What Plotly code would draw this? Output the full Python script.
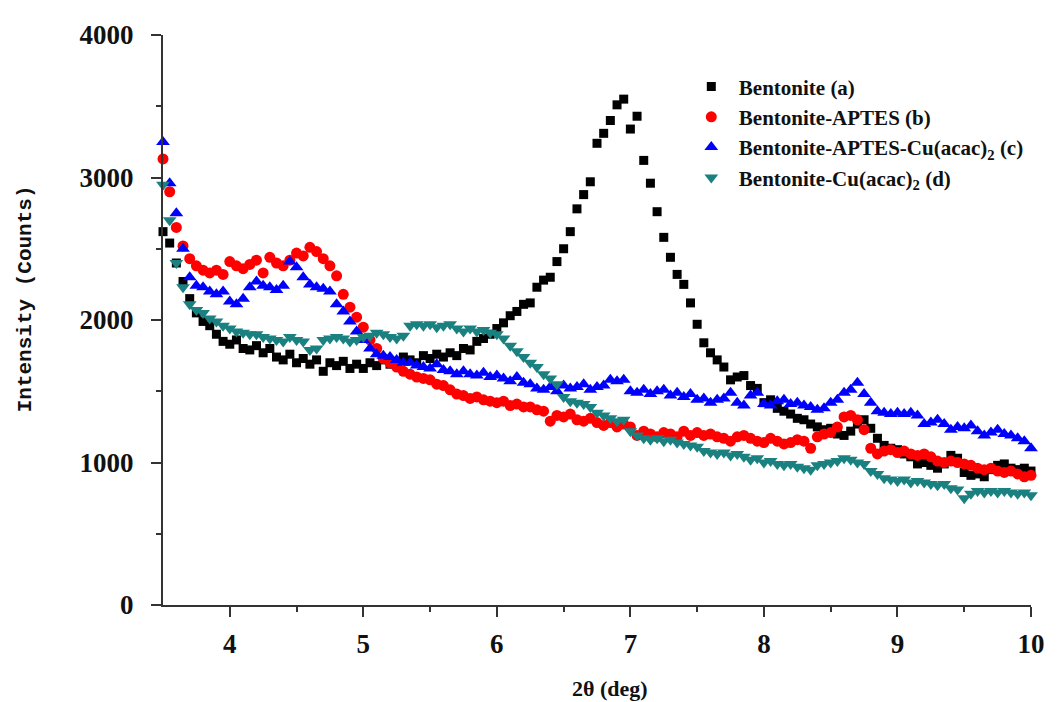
import plotly.graph_objects as go

# 2-theta scan positions (deg)
two_theta = [
    3.50, 3.55, 3.60, 3.65, 3.70, 3.75, 3.80, 3.85, 3.90, 3.95,
    4.00, 4.05, 4.10, 4.15, 4.20, 4.25, 4.30, 4.35, 4.40, 4.45,
    4.50, 4.55, 4.60, 4.65, 4.70, 4.75, 4.80, 4.85, 4.90, 4.95,
    5.00, 5.05, 5.10, 5.15, 5.20, 5.25, 5.30, 5.35, 5.40, 5.45,
    5.50, 5.55, 5.60, 5.65, 5.70, 5.75, 5.80, 5.85, 5.90, 5.95,
    6.00, 6.05, 6.10, 6.15, 6.20, 6.25, 6.30, 6.35, 6.40, 6.45,
    6.50, 6.55, 6.60, 6.65, 6.70, 6.75, 6.80, 6.85, 6.90, 6.95,
    7.00, 7.05, 7.10, 7.15, 7.20, 7.25, 7.30, 7.35, 7.40, 7.45,
    7.50, 7.55, 7.60, 7.65, 7.70, 7.75, 7.80, 7.85, 7.90, 7.95,
    8.00, 8.05, 8.10, 8.15, 8.20, 8.25, 8.30, 8.35, 8.40, 8.45,
    8.50, 8.55, 8.60, 8.65, 8.70, 8.75, 8.80, 8.85, 8.90, 8.95,
    9.00, 9.05, 9.10, 9.15, 9.20, 9.25, 9.30, 9.35, 9.40, 9.45,
    9.50, 9.55, 9.60, 9.65, 9.70, 9.75, 9.80, 9.85, 9.90, 9.95,
    10.00,
]

bentonite_a = [
    2620, 2540, 2400, 2270, 2150, 2050, 1990, 1960, 1900, 1850,
    1830, 1860, 1800, 1790, 1820, 1770, 1800, 1740, 1720, 1760,
    1700, 1730, 1690, 1720, 1640, 1700, 1680, 1710, 1660, 1690,
    1660, 1700, 1680, 1720, 1690, 1710, 1740, 1720, 1700, 1750,
    1730, 1760, 1740, 1770, 1750, 1800, 1790, 1850, 1870, 1900,
    1940, 1980, 2030, 2060, 2110, 2120, 2230, 2280, 2300, 2410,
    2500, 2620, 2780, 2880, 2970, 3240, 3310, 3400, 3510, 3550,
    3340, 3430, 3120, 2960, 2760, 2580, 2440, 2320, 2250, 2120,
    1970, 1840, 1770, 1720, 1670, 1580, 1600, 1610, 1540, 1520,
    1420, 1440, 1380, 1360, 1340, 1310, 1300, 1270, 1250, 1230,
    1240, 1200, 1190, 1220, 1270, 1300, 1240, 1170, 1120, 1100,
    1090, 1060, 1040, 990, 1000, 980, 960, 990, 1050, 1030,
    930, 910, 920, 900, 950, 980, 990, 960, 950, 960,
    940,
]

bentonite_aptes_b = [
    3130, 2900, 2650, 2520, 2430, 2380, 2350, 2330, 2350, 2320,
    2410, 2380, 2360, 2390, 2420, 2330, 2440, 2400, 2380, 2420,
    2470, 2450, 2510, 2480, 2430, 2380, 2310, 2180, 2090, 2020,
    1950, 1860, 1800, 1730, 1700, 1670, 1640, 1620, 1600, 1590,
    1580, 1550, 1540, 1510, 1480, 1470, 1450, 1460, 1440, 1430,
    1420, 1430, 1400, 1410, 1390, 1390, 1370, 1360, 1290, 1330,
    1320, 1340, 1300, 1290, 1310, 1280, 1260, 1280, 1250, 1270,
    1250, 1190, 1220, 1200, 1180, 1210, 1200, 1180, 1220, 1190,
    1210, 1190, 1200, 1180, 1170, 1150, 1180, 1190, 1170, 1150,
    1140, 1170, 1150, 1130, 1140, 1160, 1150, 1100, 1180, 1200,
    1210, 1250, 1320, 1330, 1300, 1230, 1100, 1060, 1080, 1090,
    1070, 1080, 1060, 1050, 1060, 1040, 1010, 1000, 1010, 1000,
    990, 980, 960, 950, 960, 940, 930, 940, 920, 900,
    910,
]

bentonite_aptes_cu_c = [
    3250, 2960, 2750, 2500, 2300, 2240, 2230, 2200, 2180, 2200,
    2130, 2110, 2150, 2230, 2270, 2240, 2230, 2210, 2240, 2410,
    2370, 2300, 2250, 2230, 2220, 2200, 2110, 2060, 1990, 1920,
    1860, 1800, 1760, 1750, 1740, 1720, 1700, 1700, 1680, 1670,
    1660, 1690, 1650, 1640, 1620, 1640, 1620, 1610, 1630, 1600,
    1610, 1590, 1570, 1600, 1560, 1550, 1520, 1510, 1530, 1500,
    1540, 1520, 1530, 1550, 1510, 1530, 1540, 1580, 1570, 1580,
    1500, 1490, 1510, 1480, 1500, 1510, 1470, 1490, 1460, 1480,
    1440, 1450, 1420, 1440, 1450, 1490, 1420, 1400, 1470, 1490,
    1410, 1400, 1430, 1440, 1410, 1420, 1400, 1390, 1370, 1380,
    1420, 1440, 1490, 1510, 1560, 1480, 1420, 1360, 1350, 1340,
    1350, 1340, 1350, 1330, 1270, 1280, 1300, 1270, 1230, 1250,
    1240, 1260, 1220, 1190, 1210, 1230, 1200, 1190, 1170, 1150,
    1100,
]

bentonite_cu_d = [
    2950, 2700, 2400, 2230, 2110, 2070, 2050, 2010, 1990, 1960,
    1940, 1920, 1910, 1900, 1900, 1880, 1870, 1860, 1850, 1880,
    1860, 1850, 1790, 1800, 1860, 1870, 1880, 1870, 1850, 1860,
    1880, 1890, 1910, 1900, 1880, 1870, 1890, 1960, 1970, 1960,
    1970, 1950, 1960, 1970, 1940, 1920, 1940, 1920, 1930, 1910,
    1900, 1870, 1820, 1780, 1740, 1700, 1670, 1620, 1590, 1550,
    1460, 1430, 1420, 1410, 1390, 1350, 1330, 1310, 1290, 1300,
    1220, 1190, 1170, 1160, 1170, 1150, 1160, 1140, 1130, 1120,
    1110, 1080, 1070, 1060, 1070, 1050, 1060, 1040, 1020, 1030,
    1000, 1010, 990, 980, 990, 970, 960, 950, 980, 990,
    1000, 1010, 1030, 1020, 1000, 990, 940, 920, 890, 880,
    870, 880, 860, 870, 860, 850, 840, 850, 820, 810,
    750, 780, 800, 790, 800, 790, 800, 790, 780, 790,
    770,
]

series_names = [
    "Bentonite (a)",
    "Bentonite-APTES (b)",
    "Bentonite-APTES-Cu(acac)<sub>2</sub> (c)",
    "Bentonite-Cu(acac)<sub>2</sub> (d)",
]
series_values = [bentonite_a, bentonite_aptes_b, bentonite_aptes_cu_c, bentonite_cu_d]
series_colors = ["#000000", "#ff0000", "#0000ff", "#1a8080"]
series_symbols = ["square", "circle", "triangle-up", "triangle-down"]
series_sizes = [9, 11, 12, 12]

y_ticks = [0, 1000, 2000, 3000, 4000]
x_ticks = [4, 5, 6, 7, 8, 9, 10]

fig = go.Figure()
for name, vals, col, sym, sz in zip(series_names, series_values, series_colors,
                                    series_symbols, series_sizes):
    fig.add_trace(go.Scatter(
        x=two_theta, y=vals, mode="markers", name=name,
        marker=dict(symbol=sym, size=sz, color=col, line=dict(width=0)),
        cliponaxis=False,
    ))

axis_font = dict(family="Liberation Serif", size=27, color="#111111")
fig.update_layout(
    width=1052, height=694,
    margin=dict(l=155, r=29, t=19, b=97),
    paper_bgcolor="white", plot_bgcolor="white",
    showlegend=True,
    legend=dict(
        x=0.60, y=0.945, xanchor="left", yanchor="top",
        bgcolor="rgba(0,0,0,0)",
        font=dict(family="Liberation Serif", size=21, color="#111111", weight="bold"),
        itemwidth=45, tracegroupgap=0,
    ),
    xaxis=dict(
        range=[3.5, 10], tickvals=x_ticks, ticktext=[str(v) for v in x_ticks],
        showgrid=False, zeroline=False, showline=True, linecolor="#333333", linewidth=2,
        ticks="outside", ticklen=10, tickwidth=2, tickcolor="#333333",
        tickfont=dict(axis_font, weight="bold"),
        minor=dict(tickvals=[4.5, 5.5, 6.5, 7.5, 8.5, 9.5], ticks="outside",
                   ticklen=5, tickwidth=2, tickcolor="#333333"),
        ticklabelstandoff=4,
    ),
    yaxis=dict(
        range=[0, 4000], tickvals=y_ticks, ticktext=[str(v) for v in y_ticks],
        showgrid=False, zeroline=False, showline=True, linecolor="#333333", linewidth=2,
        ticks="outside", ticklen=10, tickwidth=2, tickcolor="#333333",
        tickfont=dict(axis_font, weight="bold"),
        minor=dict(tickvals=[500, 1500, 2500, 3500], ticks="outside",
                   ticklen=5, tickwidth=2, tickcolor="#333333"),
        ticklabelstandoff=12,
    ),
    annotations=[
        dict(text="Intensity (Counts)", xref="paper", yref="paper",
             x=-0.159, y=0.538, xanchor="center", yanchor="middle", textangle=-90,
             showarrow=False,
             font=dict(family="Liberation Mono", size=21, color="#111111", weight="bold")),
        dict(text="2θ (deg)", xref="paper", yref="paper",
             x=0.515, y=-0.147, xanchor="center", yanchor="middle",
             showarrow=False,
             font=dict(family="Liberation Serif", size=22, color="#111111", weight="bold")),
    ],
)

fig.write_html("out.html")
